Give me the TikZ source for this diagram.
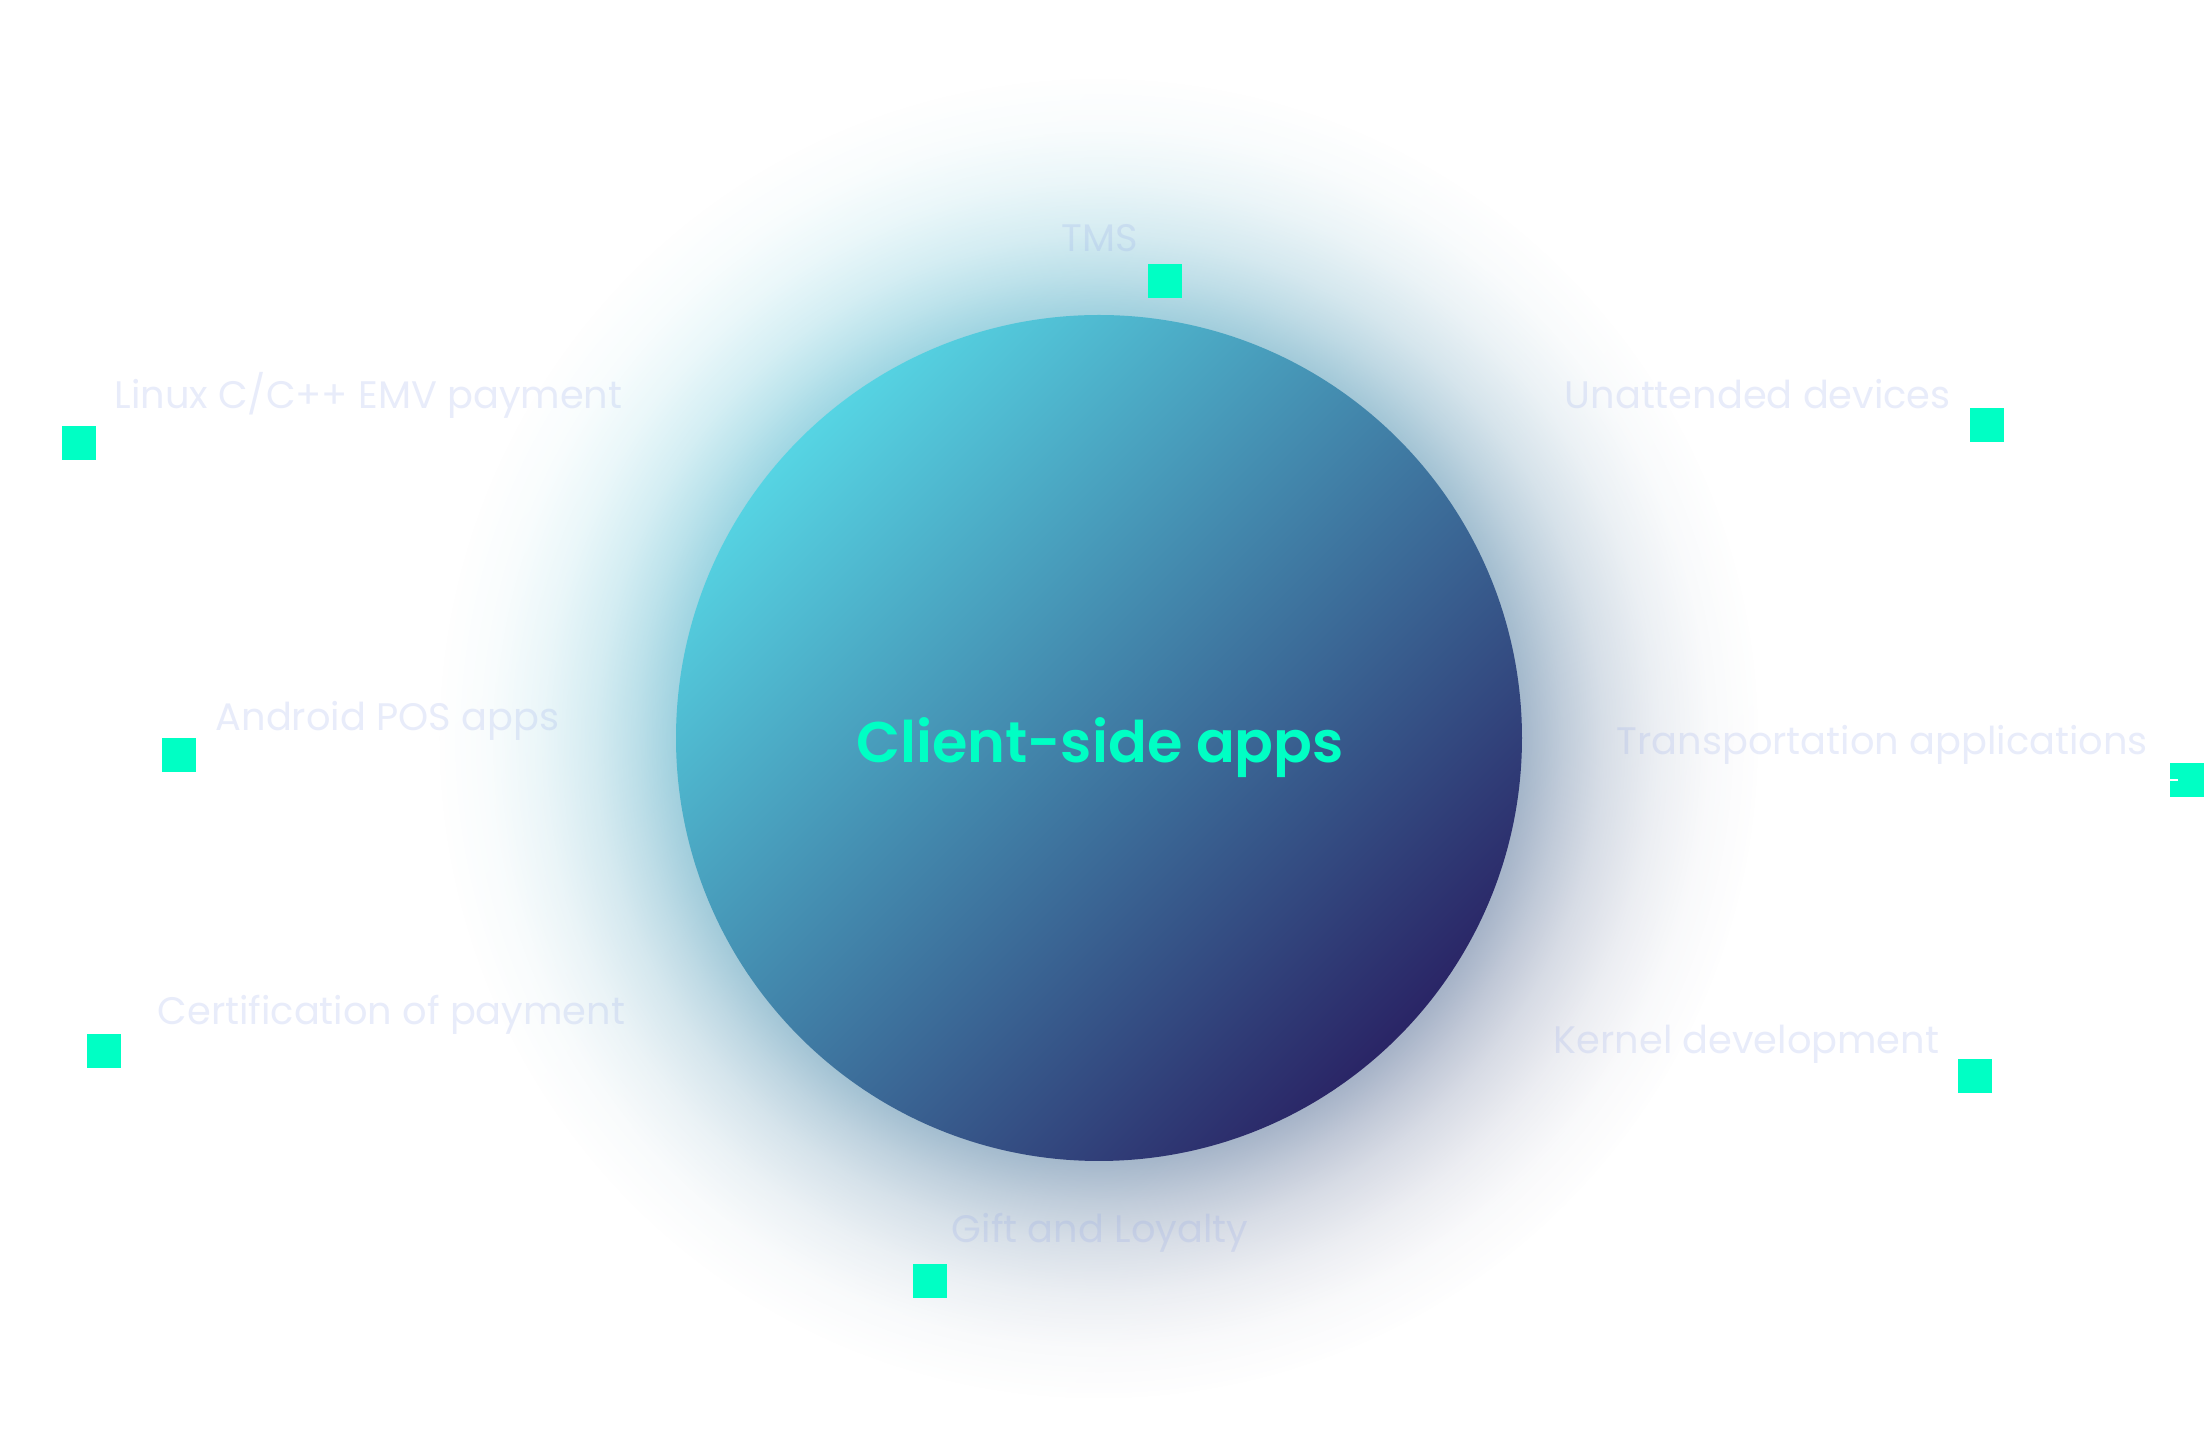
\documentclass[tikz,border=0pt]{standalone}
\usepackage{fontspec}
\setmainfont{Poppins}[BoldFont=Poppins SemiBold]
\usetikzlibrary{fadings}

\definecolor{mint}{HTML}{00FFC4}
\definecolor{labelblue}{RGB}{140,160,230}
\definecolor{balltop}{HTML}{56D4E3}
\definecolor{ballbottom}{HTML}{2A2566}
\definecolor{glowtop}{RGB}{95,205,222}
\definecolor{glowbottom}{RGB}{110,112,150}

% soft ring around the ball
\pgfdeclareradialshading{glowmask}{\pgfpointorigin}{%
  color(0bp)=(white!60!black); color(16bp)=(white!60!black);
  color(17.5bp)=(white!42!black); color(19bp)=(white!27!black);
  color(21bp)=(white!13!black); color(23bp)=(white!4!black);
  color(25bp)=(black); color(50bp)=(black)}
\pgfdeclarefading{glowfade}{\pgfuseshading{glowmask}}

\tikzset{
  itemlabel/.style={text=labelblue, text opacity=0.2, font=\fontsize{10.9}{12}\selectfont, inner sep=0pt},
  marker/.style={fill=mint, minimum size=0.34cm, inner sep=0pt},
}

\begin{document}
\begin{tikzpicture}[x=0.01cm, y=-0.01cm]
    % Canvas
    \fill [white] (0, 0) rectangle (2204, 1431);
    \coordinate (ctr) at (1099, 738);

    % Glow and ball
    \shade [top color=glowtop, bottom color=glowbottom, shading angle=45,
            path fading=glowfade, fit fading=true] (ctr) circle (660);
    \shade [top color=balltop, bottom color=ballbottom, shading angle=45] (ctr) circle (423);
    \node [font=\fontsize{16.3}{20}\selectfont\bfseries, text=mint, anchor=base] (title) at (1100, 763) {Client-side apps};

    % Labels
    \node [itemlabel, anchor=base] (tms) at (1100, 252) {TMS};
    \node [itemlabel, anchor=base west] (linux) at (114, 409) {Linux C/C++ EMV payment};
    \node [itemlabel, anchor=base west] (unattended) at (1564, 409) {Unattended devices};
    \node [itemlabel, anchor=base west] (android) at (215, 731) {Android POS apps};
    \node [itemlabel, anchor=base west] (transport) at (1616, 755) {Transportation applications};
    \node [itemlabel, anchor=base west] (cert) at (157, 1025) {Certification of payment};
    \node [itemlabel, anchor=base west] (kernel) at (1553, 1054) {Kernel development};
    \node [itemlabel, anchor=base] (gift) at (1100, 1243) {Gift and Loyalty};

    % Markers
    \node [marker] (tmssq) at (1165, 281) {};
    \node [marker] (linuxsq) at (79, 443) {};
    \node [marker] (unattendedsq) at (1987, 425) {};
    \node [marker] (androidsq) at (179, 755) {};
    \node [marker] (transportsq) at (2187, 780) {};
    \node [marker] (certsq) at (104, 1051) {};
    \node [marker] (kernelsq) at (1975, 1076) {};
    \node [marker] (giftsq) at (930, 1281) {};
    \draw [white, line width=0.3pt] (transportsq.west) -- ++(9, 0);
\end{tikzpicture}
\end{document}
